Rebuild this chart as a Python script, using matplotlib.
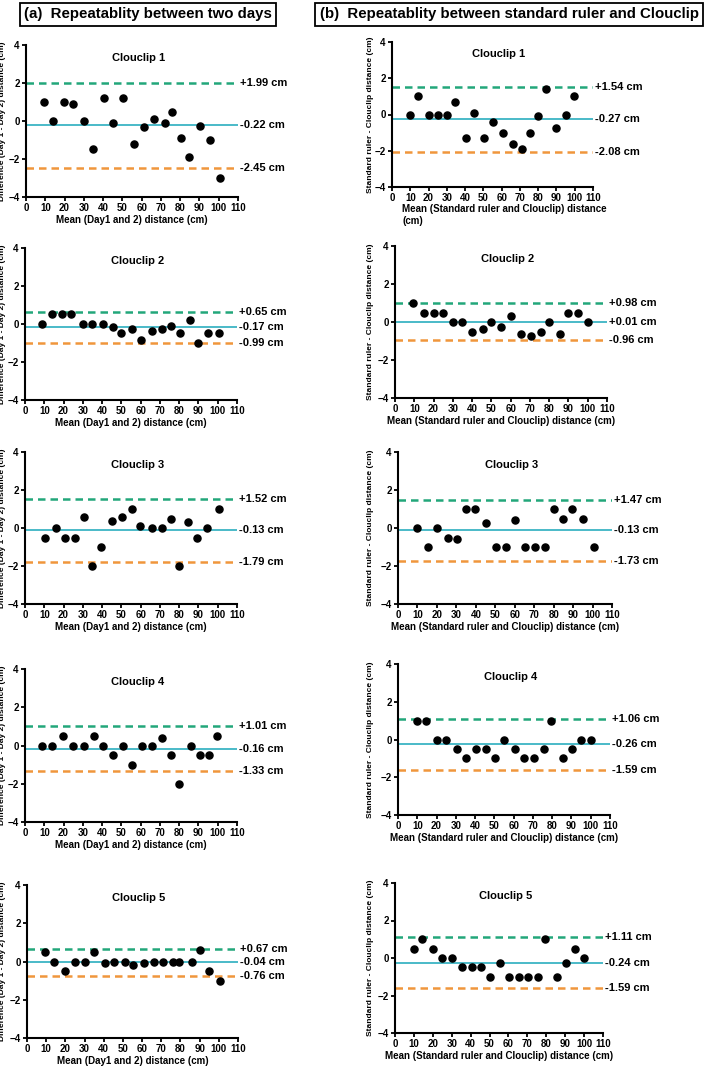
import matplotlib
matplotlib.use('Agg')
import matplotlib.pyplot as plt

plt.rcParams['font.family'] = ['Liberation Sans', 'DejaVu Sans']
plt.rcParams['font.weight'] = 'bold'

# ---- data: (a) Day 1 vs Day 2 ----
day_x = [
    [9.5, 14, 19.5, 24.5, 30, 35, 40.5, 45, 50.5, 56, 61, 66.5, 72, 75.5, 80.5, 84.5, 90.5, 95.5, 100.5],
    [9, 14, 19, 24, 30, 35, 40.5, 45.5, 50, 55.5, 60, 66, 71, 75.5, 80.5, 85.5, 90, 95, 100.5],
    [10.5, 16, 20.5, 26, 30.5, 35, 39.5, 45, 50.5, 55.5, 59.5, 66, 71, 76, 80, 84.5, 89, 94.5, 100.5],
    [9, 14, 19.5, 25, 30.5, 36, 40.5, 45.5, 51, 55.5, 60.5, 66, 71, 76, 80, 86, 91, 95.5, 99.5],
    [9.5, 14, 20, 25, 30, 35, 40.5, 45.5, 51, 55.5, 61, 66, 71, 76, 79, 86, 90, 95, 100.5],
]
day_y = [
    [1.0, 0, 1.0, 0.9, 0, -1.45, 1.2, -0.1, 1.2, -1.2, -0.3, 0.08, -0.1, 0.5, -0.9, -1.9, -0.25, -1.0, -3.0],
    [0, 0.5, 0.5, 0.5, 0, 0, 0, -0.15, -0.5, -0.25, -0.85, -0.38, -0.25, -0.1, -0.5, 0.2, -1.0, -0.5, -0.5],
    [-0.5, 0, -0.5, -0.5, 0.6, -2.0, -1.0, 0.35, 0.6, 1.0, 0.1, 0, 0, 0.5, -2.0, 0.3, -0.5, 0, 1.0],
    [0, 0, 0.5, 0, 0, 0.5, 0, -0.5, 0, -1.0, 0, 0, 0.4, -0.5, -2.0, 0, -0.5, -0.5, 0.5],
    [0.5, 0, -0.5, 0, 0, 0.5, -0.1, 0, 0, -0.18, -0.1, 0, 0, 0, 0, 0, 0.6, -0.5, -1.0],
]
day_upper = [1.99, 0.65, 1.52, 1.01, 0.67]
day_mean = [-0.22, -0.17, -0.13, -0.16, -0.04]
day_lower = [-2.45, -0.99, -1.79, -1.33, -0.76]

# ---- data: (b) standard ruler vs Clouclip ----
rul_x = [
    [10, 14.5, 20, 25, 30, 34.5, 40.5, 45, 50.5, 55.5, 60.5, 66, 71, 75.5, 80, 84.5, 90, 95, 99.5],
    [9.5, 15, 20, 25, 30, 35, 40, 45.5, 50, 55, 60, 65.5, 70.5, 75.5, 80, 85.5, 90, 95, 100],
    [10, 15.5, 20, 25.5, 30.5, 35, 39.5, 45, 50.5, 55.5, 60, 65.5, 70.5, 75.5, 80, 85, 89.5, 95, 100.5],
    [10, 14.5, 20, 25, 30.5, 35.5, 40.5, 45.5, 50.5, 55, 60.5, 65.5, 70.5, 75.5, 79.5, 85.5, 90.5, 95, 100],
    [10, 14.5, 20, 25, 30, 35.5, 40.5, 45.5, 50.5, 55.5, 60.5, 65.5, 70.5, 75.5, 79.5, 85.5, 90.5, 95, 100],
]
rul_y = [
    [0, 1.0, 0, 0, 0, 0.7, -1.3, 0.1, -1.3, -0.4, -1.0, -1.6, -1.9, -1.0, -0.1, 1.4, -0.75, 0, 1.0],
    [1.0, 0.5, 0.5, 0.5, 0, 0, -0.5, -0.35, 0, -0.28, 0.32, -0.65, -0.75, -0.55, 0, -0.62, 0.5, 0.5, 0],
    [0, -1.0, 0, -0.5, -0.6, 1.0, 1.0, 0.25, -1.0, -1.0, 0.4, -1.0, -1.0, -1.0, 1.0, 0.5, 1.0, 0.5, -1.0],
    [1.0, 1.0, 0, 0, -0.5, -1.0, -0.5, -0.5, -1.0, 0, -0.5, -1.0, -1.0, -0.5, 1.0, -1.0, -0.5, 0, 0],
    [0.5, 1.0, 0.5, 0, 0, -0.5, -0.5, -0.5, -1.0, -0.25, -1.0, -1.0, -1.0, -1.0, 1.0, -1.0, -0.25, 0.5, 0],
]
rul_upper = [1.54, 0.98, 1.47, 1.06, 1.11]
rul_mean = [-0.27, 0.01, -0.13, -0.26, -0.24]
rul_lower = [-2.08, -0.96, -1.73, -1.59, -1.59]

titles = ['Clouclip 1', 'Clouclip 2', 'Clouclip 3', 'Clouclip 4', 'Clouclip 5']
x_ticks = list(range(0, 111, 10))
y_ticks = [-4, -2, 0, 2, 4]

W, H = 709, 1066
fig = plt.figure(figsize=(W / 100, H / 100), dpi=100)

# axes boxes in pixels: x0, x1, ytop, ybottom
left_boxes = [(26, 238, 45, 197), (25, 237, 248, 400), (25, 237, 452, 604),
              (25, 237, 669, 822), (27, 238, 885, 1038)]
right_boxes = [(392, 593, 42, 187), (395, 607, 246, 398), (398, 612, 452, 604),
               (398, 610, 664, 815), (395, 603, 883, 1033)]

GREEN = '#22a77a'
ORANGE = '#f0963c'
CYAN = '#3cb4c4'


def bland_altman(box, xs, ys, up, mn, lo, title, ylabel, xlabel, ylab_px):
    x0, x1, yt, yb = box
    ax = fig.add_axes([x0 / W, 1 - yb / H, (x1 - x0) / W, (yb - yt) / H])
    ax.axhline(up, color=GREEN, ls=(0, (3, 2)), lw=1.8)
    ax.axhline(lo, color=ORANGE, ls=(0, (3, 2)), lw=1.8)
    ax.axhline(mn, color=CYAN, lw=1.3)
    ax.scatter(xs, ys, s=26, color='black', zorder=3, clip_on=False)
    for v in (up, mn, lo):
        ax.text(111, v, f'{v:+.2f} cm', fontsize=8, fontweight='bold',
                va='center', ha='left', clip_on=False)
    ax.set_xlim(0, 110)
    ax.set_ylim(-4, 4)
    ax.set_xticks(x_ticks)
    ax.set_yticks(y_ticks)
    ax.tick_params(labelsize=7, width=1.3, length=3, pad=1.5)
    for lab in ax.get_xticklabels() + ax.get_yticklabels():
        lab.set_fontweight('bold')
    for s in ('top', 'right'):
        ax.spines[s].set_visible(False)
    for s in ('left', 'bottom'):
        ax.spines[s].set_linewidth(1.5)
    ax.text(0.53, 0.915, title, transform=ax.transAxes, ha='center', va='center',
            fontsize=8, fontweight='bold')
    ax.set_ylabel(ylabel, fontsize=6, fontweight='bold')
    ax.yaxis.set_label_coords((ylab_px - x0) / (x1 - x0), 0.5)
    ax.set_xlabel(xlabel, fontsize=7, fontweight='bold', labelpad=1.5)
    return ax


for i in range(5):
    bland_altman(left_boxes[i], day_x[i], day_y[i], day_upper[i], day_mean[i], day_lower[i],
                 titles[i], 'Difference (Day 1 - Day 2) distance (cm)',
                 'Mean (Day1 and 2) distance (cm)', 6)
    if i == 0:
        xl = 'Mean (Standard ruler and Clouclip) distance\n(cm)'
    else:
        xl = 'Mean (Standard ruler and Clouclip) distance (cm)'
    ax = bland_altman(right_boxes[i], rul_x[i], rul_y[i], rul_upper[i], rul_mean[i], rul_lower[i],
                      titles[i], 'Standard ruler - Clouclip distance (cm)', xl, 374)
    if i == 0:
        ax.xaxis.label.set_horizontalalignment('left')
        ax.xaxis.set_label_coords(0.05, -0.12)
        ax.xaxis.label.set_va('top')

# panel headers
for cx, txt in [(148, '(a)  Repeatablity between two days'),
                (509, '(b)  Repeatablity between standard ruler and Clouclip')]:
    fig.text(cx / W, 1 - 14 / H, txt, ha='center', va='center', fontsize=10.8,
             fontweight='bold',
             bbox=dict(boxstyle='square,pad=0.3', fc='white', ec='black', lw=1.3))

fig.savefig('out.png', dpi=100)
